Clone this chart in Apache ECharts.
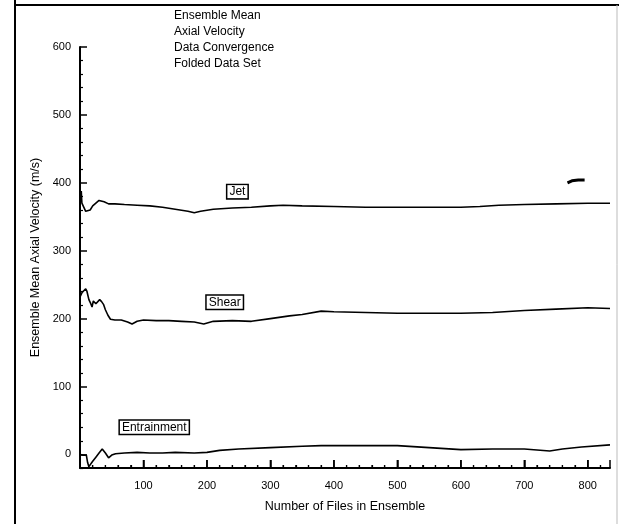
<!DOCTYPE html>
<html><head><meta charset="utf-8">
<script src="https://cdn.jsdelivr.net/npm/echarts@6/dist/echarts.min.js"></script>
<style>html,body{margin:0;padding:0;background:#fff}#c{width:619px;height:524px}</style>
</head><body><div id="c"></div>
<script>
var titleLines = ['Ensemble Mean','Axial Velocity','Data Convergence','Folded Data Set'];
var xTickLabels = [100,200,300,400,500,600,700,800];
var xMajorTicks = [0,100,200,300,400,500,600,700,800];
var xMinorTicks = [20,40,60,80,120,140,160,180,220,240,260,280,320,340,360,380,420,440,460,480,520,540,560,580,620,640,660,680,720,740,760,780,820];
var yTickLabels = [0,100,200,300,400,500,600];
var yMinorTicks = [-20,20,40,60,80,120,140,160,180,220,240,260,280,320,340,360,380,420,440,460,480,520,540,560,580];

var jetX = [0,1,2,3,5,7,9,12,16,20,25,30,33,38,45,55,70,90,110,130,150,170,180,190,210,240,270,300,320,350,400,450,500,550,600,630,660,700,750,800,835];
var jetY = [395,378,388,370,366,362,358,356,360,366,370,374,376,372,369,369,368,367,366,364,361,358,356,358,361,363,364,366,367,366,365,364,364,364,364,365,367,368,369,370,370];

var shearX = [0,3,6,9,11,14,17,19,21,25,28,31,34,37,40,44,48,55,65,75,82,90,100,120,140,160,180,195,210,240,270,300,330,350,380,400,450,500,550,600,650,700,750,800,835];
var shearY = [232,238,236,244,240,228,222,217,226,222,224,228,225,221,213,205,199,198,198,195,192,196,198,197,197,196,195,192,196,197,196,200,204,206,211,210,209,208,208,208,209,212,214,216,215];

var entX = [0,5,10,12,14,17,20,25,30,35,40,45,50,56,70,90,110,130,150,180,200,220,250,300,350,380,420,500,550,600,650,700,740,760,790,835];
var entY = [0,-1,-1,-12,-18,-16,-10,-4,2,8,2,-5,-1,1,2,3,2,2,3,2,3,6,8,10,12,13,13,13,10,7,8,8,5,8,11,14];

var strayX = [768,775,785,795];
var strayY = [400,403,404,404];

var labelNames = ['Jet','Shear','Entrainment'];
var labelX = [248,228,117];
var labelY = [387,224,40];

var Y_MIN = -20, Y_MAX = 600;

function pairs(xs, ys){ return xs.map(function(x,i){return [x, ys[i]];}); }

var font = 'Liberation Sans, Arial, Helvetica, sans-serif';
function lineSeries(xs, ys, idx, w){
  var s = {type:'line', data:pairs(xs,ys), showSymbol:false, symbol:'none', smooth:false,
    lineStyle:{color:'#000', width:w||1.6}, z:3, silent:true};
  if (idx !== undefined) {
    s.markPoint = {symbol:'rect', symbolSize:0, silent:true, data:[{coord:[labelX[idx], labelY[idx]],
      label:{show:true, formatter:labelNames[idx], color:'#000', fontFamily:font, fontSize:12,
        backgroundColor:'#fff', borderColor:'#000', borderWidth:1.5, padding:[1,2,0,2], position:'inside'}}]};
  }
  return s;
}

function tickSeries(values, len, width){
  return {type:'custom', silent:true, z:5, clip:false,
    data: values.map(function(v){return [v, Y_MIN];}),
    encode:{x:0, y:1},
    renderItem:function(params, api){
      var p = api.coord([api.value(0), api.value(1)]);
      return {type:'line', shape:{x1:p[0], y1:p[1], x2:p[0], y2:p[1]-len},
        style:{stroke:'#000', lineWidth:width}};
    }};
}

var chart = echarts.init(document.getElementById('c'), null, {renderer:'canvas'});
chart.setOption({
  animation:false,
  backgroundColor:'#fff',
  grid:{left:80, right:9, top:47, bottom:56},
  xAxis:{type:'value', min:0, max:835, interval:100,
    name:'Number of Files in Ensemble', nameLocation:'middle', nameGap:32,
    nameTextStyle:{color:'#000', fontFamily:font, fontSize:12.5},
    axisLine:{show:true, onZero:false, lineStyle:{color:'#000', width:2}},
    axisTick:{show:true, inside:true, length:8, lineStyle:{color:'#000', width:1.5}},
    minorTick:{show:true, splitNumber:5, length:3, lineStyle:{color:'#000', width:1.2}},
    axisLabel:{color:'#000', fontFamily:font, fontSize:11, margin:12,
      formatter:function(v){return xTickLabels.indexOf(v)>=0 ? String(v) : '';}},
    splitLine:{show:false}},
  yAxis:[{type:'value', min:Y_MIN, max:Y_MAX,
    name:'Ensemble Mean Axial Velocity (m/s)', nameLocation:'middle', nameGap:31,
    nameTextStyle:{color:'#000', fontFamily:font, fontSize:12.5},
    axisLine:{show:true, onZero:false, lineStyle:{color:'#000', width:2}},
    axisTick:{show:true, inside:true, length:7, customValues:yTickLabels, lineStyle:{color:'#000', width:1.5}},
    axisLabel:{color:'#000', fontFamily:font, fontSize:11, margin:9, customValues:yTickLabels},
    splitLine:{show:false}},
   {type:'value', min:Y_MIN, max:Y_MAX, position:'left',
    axisLine:{show:false, onZero:false},
    axisTick:{show:true, inside:true, length:3, customValues:yMinorTicks, lineStyle:{color:'#000', width:1.2}},
    axisLabel:{show:false}, splitLine:{show:false}}],
  series:[
    lineSeries(jetX, jetY, 0),
    lineSeries(shearX, shearY, 1),
    lineSeries(entX, entY, 2),
    lineSeries(strayX, strayY, undefined, 3),
    tickSeries(xMajorTicks, 8, 1.5),
    tickSeries(xMinorTicks, 3, 1.2)
  ],
  graphic:[
    {type:'line', shape:{x1:15, y1:0, x2:15, y2:524}, style:{stroke:'#000', lineWidth:2}},
    {type:'line', shape:{x1:14, y1:5, x2:619, y2:5}, style:{stroke:'#000', lineWidth:2}},
    {type:'line', shape:{x1:617, y1:5, x2:617, y2:524}, style:{stroke:'#bbb', lineWidth:1}},
    {type:'text', left:174, top:8, style:{text:titleLines.join('\n'), fill:'#000', font:'12px ' + font, lineHeight:16}}
  ]
});
</script></body></html>
